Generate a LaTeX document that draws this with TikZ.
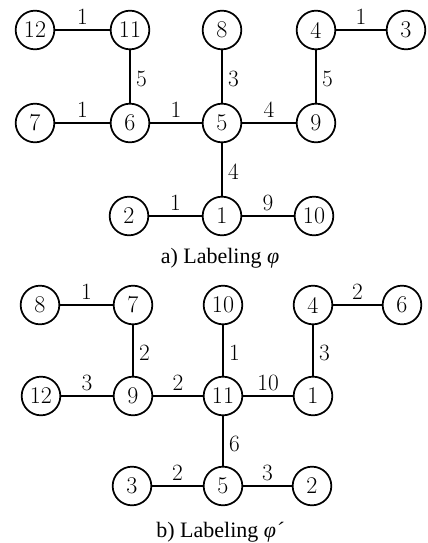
\documentclass[tikz,border=0pt]{standalone}
\usepackage{fontspec}
\newfontfamily\capfont{Liberation Serif}
\begin{document}
\begin{tikzpicture}[x=0.75pt,y=-0.75pt,
  vtx/.style={circle,draw,line width=1.3pt,minimum size=29pt,inner sep=0pt,font=\fontsize{18}{20}\selectfont},
  lab/.style={font=\fontsize{17.5}{20}\selectfont,inner sep=1pt},
  edge/.style={line width=1.3pt},
  hl/.style={lab,above=2.5pt},
  vl/.style={lab,right=3pt,pos=0.55},
  captxt/.style={font=\capfont\fontsize{16.5}{18}\selectfont,inner sep=0pt}]
\useasboundingbox (0,0) rectangle (428,543);
% (a)
\node[vtx] (a12) at (35,30) {12};
\node[vtx] (a11) at (130,30) {11};
\node[vtx] (a8) at (222,30) {8};
\node[vtx] (a4) at (316,30) {4};
\node[vtx] (a3) at (406,30) {3};
\node[vtx] (a7) at (35,123) {7};
\node[vtx] (a6) at (130,123) {6};
\node[vtx] (a5) at (222,123) {5};
\node[vtx] (a9) at (316,123) {9};
\node[vtx] (a2) at (129,216) {2};
\node[vtx] (a1) at (222,216) {1};
\node[vtx] (a10) at (314,216) {10};
\draw[edge] (a12) -- node[hl]{1} (a11);
\draw[edge] (a11) -- node[vl]{5} (a6);
\draw[edge] (a7) -- node[hl]{1} (a6);
\draw[edge] (a6) -- node[hl]{1} (a5);
\draw[edge] (a8) -- node[vl]{3} (a5);
\draw[edge] (a5) -- node[hl]{4} (a9);
\draw[edge] (a4) -- node[vl]{5} (a9);
\draw[edge] (a4) -- node[hl]{1} (a3);
\draw[edge] (a5) -- node[vl]{4} (a1);
\draw[edge] (a2) -- node[hl]{1} (a1);
\draw[edge] (a1) -- node[hl]{9} (a10);
\node[captxt] (ca) at (220,258) {a) Labeling \textit{φ}};
% (b)
\node[vtx] (b8) at (40,305) {8};
\node[vtx] (b7) at (133,305) {7};
\node[vtx] (b10) at (223,305) {10};
\node[vtx] (b4) at (313,305) {4};
\node[vtx] (b6) at (402,305) {6};
\node[vtx] (b12) at (41,396) {12};
\node[vtx] (b9) at (133,396) {9};
\node[vtx] (b11) at (223,396) {11};
\node[vtx] (b1) at (313,396) {1};
\node[vtx] (b3) at (132,486) {3};
\node[vtx] (b5) at (223,486) {5};
\node[vtx] (b2) at (312,486) {2};
\draw[edge] (b8) -- node[hl]{1} (b7);
\draw[edge] (b7) -- node[vl]{2} (b9);
\draw[edge] (b12) -- node[hl]{3} (b9);
\draw[edge] (b9) -- node[hl]{2} (b11);
\draw[edge] (b10) -- node[vl]{1} (b11);
\draw[edge] (b11) -- node[hl]{10} (b1);
\draw[edge] (b4) -- node[vl]{3} (b1);
\draw[edge] (b4) -- node[hl]{2} (b6);
\draw[edge] (b11) -- node[vl]{6} (b5);
\draw[edge] (b3) -- node[hl]{2} (b5);
\draw[edge] (b5) -- node[hl]{3} (b2);
\node[captxt] (cb) at (220,532) {b) Labeling \textit{φ´}};
\end{tikzpicture}
\end{document}
